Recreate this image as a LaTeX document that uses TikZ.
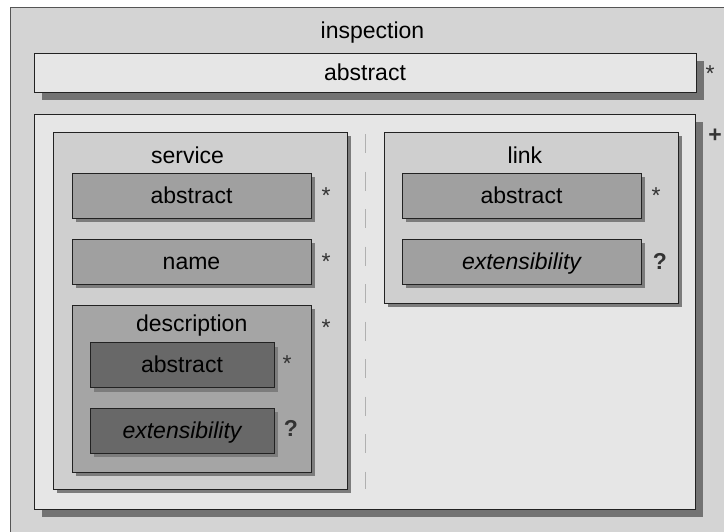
\documentclass[tikz,border=0pt]{standalone}
\usepackage{fontspec}
\setmainfont{Liberation Sans}
\usetikzlibrary{shadows}
\definecolor{outerfill}{HTML}{D4D4D4}
\definecolor{outeredge}{HTML}{555555}
\definecolor{lightfill}{HTML}{E6E6E6}
\definecolor{midfill}{HTML}{CFCFCF}
\definecolor{boxfill}{HTML}{A0A0A0}
\definecolor{descfill}{HTML}{A5A5A5}
\definecolor{darkfill}{HTML}{686868}
\definecolor{bigshadow}{HTML}{737373}
\definecolor{smallshadow}{HTML}{7C7C7C}
\definecolor{edge}{HTML}{222222}
\definecolor{dashgray}{HTML}{B0B0B0}
\definecolor{multgray}{HTML}{333333}
\begin{document}
\begin{tikzpicture}[x=1pt,y=-1pt,font=\fontsize{23}{27}\selectfont,
  box/.style={draw=edge,line width=1pt,rectangle,inner sep=0pt,text height=15pt,text depth=0pt,align=center},
  bigshad/.style={drop shadow={shadow xshift=8pt,shadow yshift=-8pt,fill=bigshadow,opacity=1}},
  smallshad/.style={drop shadow={shadow xshift=4pt,shadow yshift=-4pt,fill=smallshadow,opacity=1}},
  wide/.style={minimum width=239pt,minimum height=45pt},
  narrow/.style={minimum width=184pt,minimum height=45pt},
  mult/.style={anchor=base,inner sep=0pt,text=multgray},
  title/.style={anchor=base,inner sep=0pt},
]
\useasboundingbox (0,0) rectangle (724,531);
\clip (0,0) rectangle (724,531);
\fill[white] (0,0) rectangle (724,531);
\node[draw=outeredge,fill=outerfill,line width=1pt,inner sep=0pt,anchor=north west,minimum width=740pt,minimum height=560pt] (outer) at (10,7) {};
\node[title] (inspection) at (372.5,38) {inspection};

\node[box,fill=lightfill,bigshad,minimum width=662pt,minimum height=39pt] (topabstract) at (365,72.5) {abstract};
\node[mult] (m1) at (710,81.5) {*};

\node[box,fill=lightfill,bigshad,minimum width=661pt,minimum height=395pt] (container) at (364.5,311.5) {};
\node[mult] (m2) at (715,142) {\bfseries +};

\coordinate (dtop) at (365,134);
\coordinate (dbot) at (365,489);
\draw[dashgray,line width=1pt,dash pattern=on 19pt off 18.5pt] (dtop) -- (dbot);

% service
\node[box,fill=midfill,smallshad,minimum width=294pt,minimum height=357pt] (service) at (200,310.5) {};
\node[title] (servicet) at (187.5,163) {service};
\node[box,fill=boxfill,smallshad,wide] (sabstract) at (191.5,195.5) {abstract};
\node[mult] (m3) at (326,203) {*};
\node[box,fill=boxfill,smallshad,wide] (sname) at (191.5,261.5) {name};
\node[mult] (m4) at (326,269) {*};
\node[box,fill=descfill,smallshad,minimum width=239pt,minimum height=167pt] (description) at (191.5,388.5) {};
\node[title] (descriptiont) at (191.7,331) {description};
\node[mult] (m5) at (326,335) {*};
\node[box,fill=darkfill,smallshad,narrow] (dabstract) at (182,365) {abstract};
\node[mult] (m6) at (287,371) {*};
\node[box,fill=darkfill,smallshad,narrow] (dext) at (182,430.5) {\itshape extensibility};
\node[mult] (m7) at (291,436) {\bfseries ?};

% link
\node[box,fill=midfill,smallshad,minimum width=294pt,minimum height=171pt] (link) at (531,217.5) {};
\node[title] (linkt) at (525,163) {link};
\node[box,fill=boxfill,smallshad,wide] (labstract) at (521.5,195.5) {abstract};
\node[mult] (m8) at (656,203) {*};
\node[box,fill=boxfill,smallshad,wide] (lext) at (521.5,261.5) {\itshape extensibility};
\node[mult] (m9) at (660,269) {\bfseries ?};
\end{tikzpicture}
\end{document}
